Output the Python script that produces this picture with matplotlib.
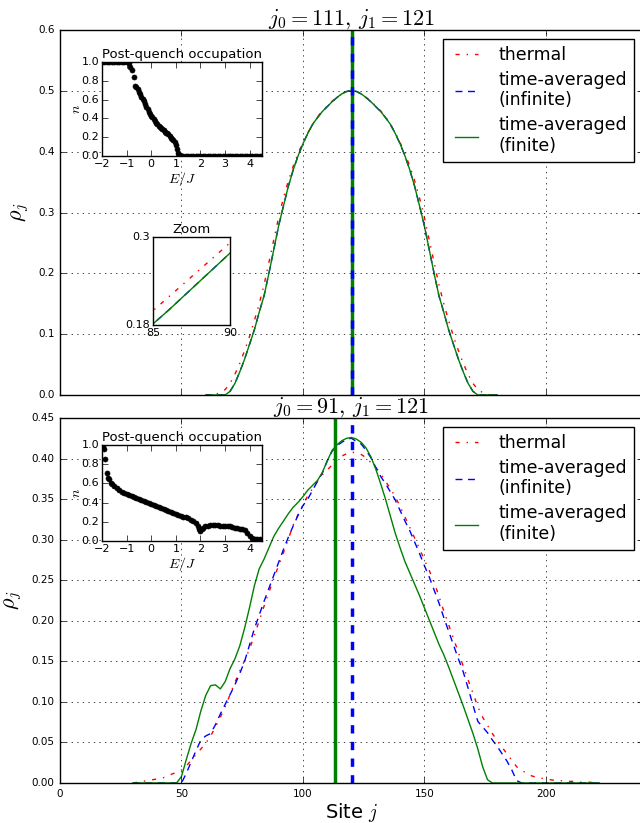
import numpy as np
import matplotlib
matplotlib.use('Agg')
import matplotlib.pyplot as plt

# 站点密度 rho_j, 上图 j0=111, 下图 j0=91
sites_top = np.arange(60, 182, 2)
rho_top_thermal = [0.000, 0.000, 0.001, 0.004, 0.009, 0.019, 0.034, 0.052, 0.073, 0.096,
                   0.122, 0.150, 0.181, 0.218, 0.255, 0.292, 0.324, 0.352, 0.376, 0.397,
                   0.415, 0.431, 0.445, 0.457, 0.467, 0.475, 0.483, 0.489, 0.495, 0.499,
                   0.500,
                   0.499, 0.495, 0.489, 0.483, 0.475, 0.467, 0.457, 0.445, 0.431, 0.415,
                   0.397, 0.376, 0.352, 0.324, 0.292, 0.255, 0.218, 0.181, 0.150, 0.122,
                   0.096, 0.073, 0.052, 0.034, 0.019, 0.009, 0.004, 0.001, 0.000, 0.000]
rho_top_inf = [0.000, 0.000, 0.000, 0.000, 0.000, 0.006, 0.019, 0.038, 0.059, 0.083,
               0.107, 0.136, 0.163, 0.200, 0.239, 0.278, 0.311, 0.343, 0.370, 0.393,
               0.413, 0.430, 0.445, 0.456, 0.466, 0.474, 0.482, 0.489, 0.495, 0.499,
               0.500,
               0.499, 0.495, 0.489, 0.482, 0.474, 0.466, 0.456, 0.445, 0.430, 0.413,
               0.393, 0.370, 0.343, 0.311, 0.278, 0.239, 0.200, 0.163, 0.136, 0.107,
               0.083, 0.059, 0.038, 0.019, 0.006, 0.000, 0.000, 0.000, 0.000, 0.000]
rho_top_fin = [0.000, 0.000, 0.000, 0.000, 0.000, 0.006, 0.019, 0.038, 0.059, 0.083,
               0.107, 0.136, 0.163, 0.200, 0.239, 0.278, 0.311, 0.343, 0.370, 0.393,
               0.413, 0.430, 0.445, 0.456, 0.466, 0.474, 0.482, 0.489, 0.495, 0.499,
               0.500,
               0.499, 0.495, 0.489, 0.482, 0.474, 0.466, 0.456, 0.445, 0.430, 0.413,
               0.393, 0.370, 0.343, 0.311, 0.278, 0.239, 0.200, 0.163, 0.136, 0.107,
               0.083, 0.059, 0.038, 0.019, 0.006, 0.000, 0.000, 0.000, 0.000, 0.000]

sites_bot = np.arange(30, 224, 2)
rho_bot_thermal = [0.000, 0.001, 0.002, 0.003, 0.004, 0.005, 0.006, 0.008, 0.011, 0.013,
                   0.016, 0.021, 0.028, 0.035, 0.042, 0.049, 0.058, 0.069, 0.081, 0.094,
                   0.109, 0.124, 0.138, 0.151, 0.165, 0.182, 0.200, 0.218, 0.235, 0.252,
                   0.268, 0.284, 0.301, 0.318, 0.331, 0.343, 0.354, 0.363, 0.372, 0.380,
                   0.386, 0.392, 0.398, 0.403, 0.406, 0.408, 0.407, 0.405, 0.401, 0.395,
                   0.389, 0.381, 0.372, 0.363, 0.353, 0.341, 0.328, 0.315, 0.302, 0.289,
                   0.275, 0.262, 0.248, 0.230, 0.212, 0.195, 0.178, 0.161, 0.144, 0.127,
                   0.111, 0.094, 0.081, 0.071, 0.061, 0.052, 0.044, 0.036, 0.028, 0.020,
                   0.016, 0.012, 0.009, 0.007, 0.006, 0.005, 0.004, 0.003, 0.003, 0.002,
                   0.002, 0.002, 0.001, 0.001, 0.001, 0.000, 0.000]
rho_bot_inf = [0.000, 0.000, 0.000, 0.000, 0.000, 0.000, 0.000, 0.000, 0.000, 0.000,
               0.000, 0.012, 0.026, 0.040, 0.053, 0.058, 0.061, 0.072, 0.085, 0.097,
               0.109, 0.121, 0.135, 0.150, 0.170, 0.190, 0.207, 0.224, 0.240, 0.256,
               0.272, 0.288, 0.303, 0.317, 0.330, 0.342, 0.350, 0.361, 0.372, 0.382,
               0.397, 0.409, 0.416, 0.420, 0.424, 0.425, 0.421, 0.418, 0.410, 0.401,
               0.389, 0.378, 0.369, 0.359, 0.349, 0.336, 0.323, 0.311, 0.297, 0.283,
               0.268, 0.254, 0.238, 0.222, 0.204, 0.187, 0.170, 0.153, 0.137, 0.117,
               0.096, 0.076, 0.069, 0.062, 0.053, 0.045, 0.036, 0.027, 0.016, 0.003,
               0.000, 0.000, 0.000, 0.000, 0.000, 0.000, 0.000, 0.000, 0.000, 0.000,
               0.000, 0.000, 0.000, 0.000, 0.000, 0.000, 0.000]
rho_bot_fin = [0.000, 0.000, 0.000, 0.000, 0.000, 0.000, 0.000, 0.000, 0.000, 0.000,
               0.008, 0.029, 0.049, 0.066, 0.089, 0.108, 0.120, 0.121, 0.116, 0.125,
               0.141, 0.153, 0.169, 0.191, 0.216, 0.243, 0.264, 0.276, 0.290, 0.304,
               0.314, 0.323, 0.332, 0.340, 0.346, 0.353, 0.361, 0.367, 0.373, 0.383,
               0.397, 0.410, 0.417, 0.422, 0.425, 0.426, 0.424, 0.420, 0.413, 0.402,
               0.387, 0.369, 0.350, 0.329, 0.308, 0.290, 0.273, 0.259, 0.245, 0.231,
               0.216, 0.201, 0.186, 0.171, 0.158, 0.143, 0.127, 0.111, 0.095, 0.078,
               0.061, 0.042, 0.020, 0.004, 0.000, 0.000, 0.000, 0.000, 0.000, 0.000,
               0.000, 0.000, 0.000, 0.000, 0.000, 0.000, 0.000, 0.000, 0.000, 0.000,
               0.000, 0.000, 0.000, 0.000, 0.000, 0.000, 0.000]

# 竖线位置
center_top_fin = 120
center_top_inf = 120
center_bot_fin = 113.4
center_bot_inf = 120

# 淬火后占据数 n(E)
E_top = [-2.0, -1.9, -1.8, -1.7, -1.6, -1.5, -1.4, -1.3, -1.2, -1.1, -1.0,
         -0.92, -0.85, -0.8, -0.72, -0.66, -0.6, -0.55, -0.5, -0.45, -0.4, -0.35,
         -0.3, -0.25, -0.2, -0.15, -0.1, -0.05, 0.0, 0.05, 0.1, 0.15, 0.2, 0.25,
         0.3, 0.35, 0.4, 0.45, 0.5, 0.55, 0.6, 0.65, 0.7, 0.75, 0.8, 0.85, 0.9,
         0.95, 1.0, 1.05, 1.1, 1.15, 1.2, 1.3, 1.4, 1.5, 1.6, 1.7, 1.8, 1.9, 2.0,
         2.1, 2.2, 2.3, 2.4, 2.5, 2.6, 2.7, 2.8, 2.9, 3.0, 3.1, 3.2, 3.3, 3.4, 3.5,
         3.6, 3.7, 3.8, 3.9, 4.0, 4.1, 4.2, 4.3, 4.4, 4.5]
n_top = [1.0, 1.0, 1.0, 1.0, 1.0, 1.0, 1.0, 1.0, 1.0, 1.0, 1.0,
         0.99, 0.95, 0.92, 0.84, 0.75, 0.73, 0.71, 0.68, 0.66, 0.63, 0.61,
         0.58, 0.55, 0.52, 0.50, 0.47, 0.45, 0.43, 0.41, 0.39, 0.37, 0.355, 0.34,
         0.32, 0.31, 0.30, 0.29, 0.275, 0.26, 0.25, 0.25, 0.23, 0.21, 0.19, 0.18, 0.17,
         0.15, 0.12, 0.07, 0.03, 0.01, 0.0, 0.0, 0.0, 0.0, 0.0, 0.0, 0.0, 0.0, 0.0,
         0.0, 0.0, 0.0, 0.0, 0.0, 0.0, 0.0, 0.0, 0.0, 0.0, 0.0, 0.0, 0.0, 0.0, 0.0,
         0.0, 0.0, 0.0, 0.0, 0.0, 0.0, 0.0, 0.0, 0.0, 0.0]

E_bot = [-1.97, -1.93, -1.86, -1.8, -1.74, -1.7, -1.64, -1.58, -1.5, -1.4, -1.3,
         -1.2, -1.1, -1.0, -0.9, -0.8, -0.7, -0.6, -0.5, -0.4, -0.3, -0.2, -0.1,
         0.0, 0.1, 0.2, 0.3, 0.4, 0.5, 0.6, 0.7, 0.8, 0.9, 1.0, 1.1, 1.2, 1.3, 1.4,
         1.5, 1.6, 1.7, 1.8, 1.9, 1.95, 2.0, 2.05, 2.1, 2.2, 2.3, 2.4, 2.5, 2.6,
         2.7, 2.8, 2.9, 3.0, 3.1, 3.2, 3.3, 3.4, 3.5, 3.6, 3.7, 3.8, 3.9, 4.0, 4.1,
         4.2, 4.3, 4.4, 4.5]
n_bot = [0.99, 0.96, 0.85, 0.71, 0.66, 0.65, 0.60, 0.59, 0.57, 0.55, 0.53,
         0.515, 0.50, 0.49, 0.475, 0.465, 0.455, 0.445, 0.435, 0.425, 0.415, 0.405, 0.395,
         0.385, 0.375, 0.365, 0.355, 0.345, 0.335, 0.325, 0.315, 0.305, 0.295, 0.285,
         0.275, 0.265, 0.255, 0.245, 0.235, 0.22, 0.205, 0.185, 0.16, 0.13, 0.10, 0.12,
         0.14, 0.155, 0.16, 0.165, 0.165, 0.165, 0.165, 0.16, 0.16, 0.16, 0.155, 0.155,
         0.15, 0.14, 0.135, 0.13, 0.125, 0.11, 0.08, 0.05, 0.035, 0.025, 0.02, 0.02, 0.015]

titles = [r'$j_0=111,\,j_1=121$', r'$j_0=91,\,j_1=121$']
labels = ['thermal', 'time-averaged\n(infinite)', 'time-averaged\n(finite)']

plt.style.use('classic')
plt.rcParams['mathtext.fontset'] = 'cm'
plt.rcParams['font.family'] = ['DejaVu Sans']

W, H = 640.0, 823.0
fig = plt.figure(figsize=(6.4, 8.23), dpi=100, facecolor='white')


def main_panel(rect, sites, thermal, inf, fin, c_fin, c_inf, title, ylim, yticks):
    ax = fig.add_axes(rect)
    ax.plot(sites, thermal, 'r-.', lw=1, label=labels[0])
    ax.plot(sites, inf, 'b', ls=(0, (5, 4)), lw=1, label=labels[1])
    ax.plot(sites, fin, 'g-', lw=1, label=labels[2])
    ax.axvline(c_fin, color='g', lw=2.5)
    ax.axvline(c_inf, color='b', ls='--', lw=2.5)
    ax.set_xlim(0, 240)
    ax.set_ylim(*ylim)
    ax.set_yticks(yticks)
    ax.set_xticks([0, 50, 100, 150, 200])
    ax.tick_params(labelsize=7.5)
    ax.grid(True)
    ax.set_title(title, fontsize=16, pad=4)
    ax.set_ylabel(r'$\rho_j$', fontsize=16)
    ax.legend(loc='upper right', fontsize=12.5, handlelength=1.9,
              handletextpad=0.9, labelspacing=0.4)
    return ax


def occ_inset(rect, E, n):
    ax = fig.add_axes(rect)
    ax.plot(E, n, 'ko', ms=3.6, mec='k')
    ax.set_xlim(-2, 4.5)
    ax.set_ylim(0, 1)
    ax.set_xticks([-2, -1, 0, 1, 2, 3, 4])
    ax.set_yticks([0, 0.2, 0.4, 0.6, 0.8, 1.0])
    ax.tick_params(labelsize=8, pad=2)
    ax.set_title('Post-quench occupation', fontsize=9.5, pad=3)
    ax.set_xlabel('$E/J$', fontsize=10, labelpad=1)
    ax.set_ylabel('$n$', fontsize=10, labelpad=-1)
    return ax


ax1 = main_panel([60 / W, (H - 395) / H, 583 / W, 365 / H], sites_top,
                 rho_top_thermal, rho_top_inf, rho_top_fin,
                 center_top_fin, center_top_inf, titles[0], (0, 0.6),
                 [0.0, 0.1, 0.2, 0.3, 0.4, 0.5, 0.6])
ax1.set_xticklabels([])

ax2 = main_panel([60 / W, (H - 783) / H, 583 / W, 365 / H], sites_bot,
                 rho_bot_thermal, rho_bot_inf, rho_bot_fin,
                 center_bot_fin, center_bot_inf, titles[1], (0, 0.45),
                 [0.0, 0.05, 0.1, 0.15, 0.2, 0.25, 0.3, 0.35, 0.4, 0.45])
ax2.set_xlabel('Site $j$', fontsize=14, labelpad=2)

occ_inset([102 / W, (H - 156) / H, 160 / W, 94 / H], E_top, n_top)
occ_inset([102 / W, (H - 541) / H, 160 / W, 96 / H], E_bot, n_bot)

# 放大窗口
axz = fig.add_axes([153 / W, (H - 325) / H, 77 / W, 88 / H])
axz.plot(sites_top, rho_top_thermal, 'r-.', lw=1)
axz.plot(sites_top, rho_top_inf, 'b', ls=(0, (5, 4)), lw=1)
axz.plot(sites_top, rho_top_fin, 'g-', lw=1)
axz.set_xlim(85, 90)
axz.set_ylim(0.18, 0.3)
axz.set_xticks([85, 90])
axz.set_yticks([0.18, 0.3])
axz.set_yticklabels(['0.18', '0.3'])
axz.tick_params(labelsize=8, pad=2)
axz.set_title('Zoom', fontsize=9.5, pad=3)

fig.savefig('out.png', dpi=100, facecolor='white')
